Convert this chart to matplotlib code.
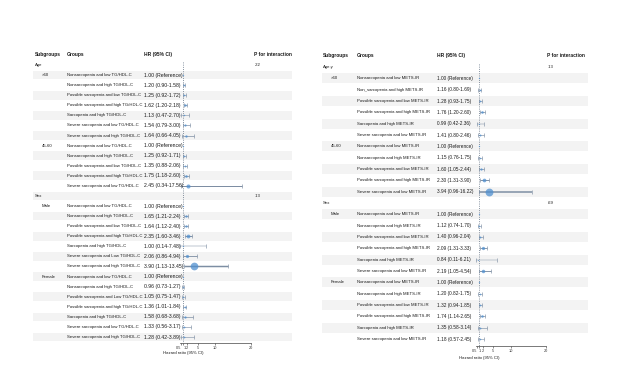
import numpy as np
import matplotlib
matplotlib.use("Agg")
from matplotlib import pyplot as plt
from matplotlib import transforms
from matplotlib.patches import Rectangle

plt.rcParams["font.family"] = ["Liberation Sans", "DejaVu Sans"]

nan = np.nan

# ---- left table: TG/HDL-C ----
tg_sections = ["Age", "Sex"]
tg_pvals = [".22", ".13"]
tg_subgroups = [">60", "45-60", "Male", "Female"]
tg_sub_sizes = [7, 5, 7, 7]
tg_groups = [
    "Nonsarcopenia and low TG/HDL-C", "Nonsarcopenia and high TG/HDL-C",
    "Possible sarcopenia and low TG/HDL-C", "Possible sarcopenia and high TG/HDL-C",
    "Sarcopenia and high TG/HDL-C", "Severe sarcopenia and low TG/HDL-C",
    "Severe sarcopenia and high TG/HDL-C",
    "Nonsarcopenia and low TG/HDL-C", "Nonsarcopenia and high TG/HDL-C",
    "Possible sarcopenia and low TG/HDL-C", "Possible sarcopenia and high TG/HDL-C",
    "Severe sarcopenia and low TG/HDL-C",
    "Nonsarcopenia and low TG/HDL-C", "Nonsarcopenia and high TG/HDL-C",
    "Possible sarcopenia and low TG/HDL-C", "Possible sarcopenia and high TG/HDL-C",
    "Sarcopenia and high TG/HDL-C", "Severe sarcopenia and Low TG/HDL-C",
    "Severe sarcopenia and high TG/HDL-C",
    "Nonsarcopenia and low TG/HDL-C", "Nonsarcopenia and high TG/HDL-C",
    "Possible sarcopenia and Low TG/HDL-C", "Possible sarcopenia and high TG/HDL-C",
    "Sarcopenia and high TG/HDL-C", "Severe sarcopenia and low TG/HDL-C",
    "Severe sarcopenia and high TG/HDL-C",
]
tg_hr = [1.00, 1.20, 1.25, 1.62, 1.13, 1.54, 1.64,
         1.00, 1.25, 1.35, 1.75, 2.45,
         1.00, 1.65, 1.64, 2.35, 1.00, 2.06, 3.90,
         1.00, 0.96, 1.05, 1.36, 1.58, 1.33, 1.28]
tg_lo = [nan, 0.90, 0.92, 1.20, 0.47, 0.79, 0.66,
         nan, 0.92, 0.88, 1.18, 0.34,
         nan, 1.21, 1.12, 1.60, 0.14, 0.86, 1.13,
         nan, 0.73, 0.75, 1.01, 0.68, 0.56, 0.42]
tg_hi = [nan, 1.58, 1.72, 2.18, 2.70, 3.00, 4.05,
         nan, 1.71, 2.06, 2.60, 17.56,
         nan, 2.24, 2.40, 3.46, 7.48, 4.94, 13.45,
         nan, 1.27, 1.47, 1.84, 3.68, 3.17, 3.89]

# ---- right table: METS-IR ----
mets_sections = ["Age.y", "Sex"]
mets_pvals = [".13", ".69"]
mets_subgroups = [">60", "45-60", "Male", "Female"]
mets_sub_sizes = [6, 5, 6, 6]
mets_groups = [
    "Nonsarcopenia and low METS-IR", "Non_sarcopenia and high METS-IR",
    "Possible sarcopenia and low METS-IR", "Possible sarcopenia and high METS-IR",
    "Sarcopenia and high METS-IR", "Severe sarcopenia and low METS-IR",
    "Nonsarcopenia and low METS-IR", "Nonsarcopenia and high METS-IR",
    "Possible sarcopenia and low METS-IR", "Possible sarcopenia and high METS-IR",
    "Severe sarcopenia and low METS-IR",
    "Nonsarcopenia and low METS-IR", "Nonsarcopenia and high METS-IR",
    "Possible sarcopenia and low METS-IR", "Possible sarcopenia and high METS-IR",
    "Sarcopenia and high METS-IR", "Severe sarcopenia and low METS-IR",
    "Nonsarcopenia and low METS-IR", "Nonsarcopenia and high METS-IR",
    "Possible sarcopenia and low METS-IR", "Possible sarcopenia and high METS-IR",
    "Sarcopenia and high METS-IR", "Severe sarcopenia and low METS-IR",
]
mets_hr = [1.00, 1.16, 1.28, 1.76, 0.99, 1.41,
           1.00, 1.15, 1.60, 2.30, 3.94,
           1.00, 1.12, 1.40, 2.09, 0.84, 2.19,
           1.00, 1.20, 1.32, 1.74, 1.35, 1.18]
mets_lo = [nan, 0.80, 0.93, 1.20, 0.42, 0.80,
           nan, 0.76, 1.05, 1.31, 0.96,
           nan, 0.74, 0.96, 1.31, 0.11, 1.05,
           nan, 0.82, 0.94, 1.14, 0.58, 0.57]
mets_hi = [nan, 1.69, 1.75, 2.60, 2.36, 2.46,
           nan, 1.75, 2.44, 3.90, 16.22,
           nan, 1.70, 2.04, 3.33, 6.21, 4.54,
           nan, 1.75, 1.85, 2.65, 3.14, 2.45]

ticks = [0.5, 1, 2, 5, 10, 20]

W, H = 620, 390
TXT = "#1a1a1a"
BAND = "#f3f3f3"
MARK = "#4f8fcf"
LINE = "#7d8ea3"


def build_rows(sections, subgroups, sizes):
    """list of rows: ('sec', i) or ('grp', sub index, data index)"""
    rows = []
    k = 0
    for s in range(len(sections)):
        rows.append(("sec", s))
        for j in (2 * s, 2 * s + 1):
            for _ in range(sizes[j]):
                rows.append(("grp", j, k))
                k += 1
    return rows


def draw_panel(fig, cols, sections, pvals, subgroups, sizes, groups, hr, lo, hi):
    rows = build_rows(sections, subgroups, sizes)
    n = len(rows)
    step = (cols["last_y"] - cols["row0_y"]) / (n - 1)
    y_top = -(cols["row0_y"] - cols["top"]) / step
    y_bot = (n - 1) + (cols["axis_y"] - cols["last_y"]) / step

    ax = fig.add_axes([cols["ax_l"] / W, 1 - cols["axis_y"] / H,
                       (cols["ax_r"] - cols["ax_l"]) / W,
                       (cols["axis_y"] - cols["top"]) / H])
    ax.patch.set_alpha(0)
    ax.set_xlim(0, 20)
    ax.set_ylim(y_bot, y_top)
    tr = transforms.blended_transform_factory(fig.transFigure, ax.transData)

    def txt(xpx, y, s, **kw):
        kw.setdefault("fontsize", cols["fs"])
        ax.text(xpx / W, y, s, transform=tr, va="center", ha="left",
                color=TXT, clip_on=False, **kw)

    # header
    for key, label in [("sub_x", "Subgroups"), ("grp_x", "Groups"),
                       ("hr_x", "HR (95% CI)"), ("p_x", "P for interaction")]:
        txt(cols[key], -1, label, fontsize=3.5, fontweight="bold")

    seen = set()
    for r, row in enumerate(rows):
        if r % 2 == 1:
            ax.add_patch(Rectangle((cols["band_l"] / W, r - 0.43),
                                   (cols["band_r"] - cols["band_l"]) / W, 0.86,
                                   transform=tr, facecolor=BAND, edgecolor="none",
                                   zorder=0, clip_on=False))
        if row[0] == "sec":
            txt(cols["sub_x"], r, sections[row[1]])
            txt(cols["p_x"] + 1, r, pvals[row[1]])
            continue
        _, j, k = row
        if j not in seen:
            seen.add(j)
            txt(cols["subname_x"], r, subgroups[j])
        txt(cols["grp_x"], r, groups[k])
        if np.isnan(lo[k]):
            hr_txt = f"{hr[k]:.2f} (Reference)"
        else:
            hr_txt = f"{hr[k]:.2f} ({lo[k]:.2f}-{hi[k]:.2f})"
        txt(cols["hr_x"], r, hr_txt, fontsize=cols["hr_fs"])

        d_px = 0.95 * hr[k] ** 1.5 + 0.4
        if not np.isnan(lo[k]):
            ax.errorbar(hr[k], r, xerr=[[hr[k] - lo[k]], [hi[k] - hr[k]]],
                        fmt="none", ecolor=LINE, elinewidth=0.35 + 0.25 * (hr[k] - 1),
                        capsize=1.1, capthick=0.45, zorder=2, clip_on=False)
        ax.plot(hr[k], r, "o", ms=d_px * 0.72, color=MARK, alpha=0.75,
                mec="none", zorder=3, clip_on=False)

    # reference line at HR = 1
    ax.plot([1, 1], [-0.3, y_bot], ls=":", lw=0.6, color="#5f6f82", zorder=1)

    for sp in ["top", "right", "left"]:
        ax.spines[sp].set_visible(False)
    ax.spines["bottom"].set_linewidth(0.5)
    ax.spines["bottom"].set_color("#444444")
    ax.set_yticks([])
    ax.set_xticks(ticks)
    ax.set_xticklabels([f"{t:g}" for t in ticks])
    ax.tick_params(axis="x", labelsize=2.8, length=1.5, width=0.4, pad=1,
                   colors="#333333")
    # the first ticks sit very close together: push 0.5 left and 1 right
    labels = ax.get_xticklabels()
    labels[0].set_ha("right")
    labels[1].set_ha("left")
    ax.set_xlabel("Hazard ratio (95% CI)", fontsize=3.1, color=TXT)
    ax.xaxis.set_label_coords(1 / 20, -cols["xlab_off"] / (cols["axis_y"] - cols["top"]))
    return ax


if __name__ == "__main__":
    fig = plt.figure(figsize=(6.2, 3.9), dpi=100)

    left_cols = dict(sub_x=35, subname_x=42, grp_x=67, hr_x=144, p_x=254,
                     band_l=33, band_r=292, ax_l=179.7, ax_r=251,
                     top=50, row0_y=65, last_y=337, axis_y=343,
                     fs=3.1, hr_fs=3.7, xlab_off=8)
    right_cols = dict(sub_x=323, subname_x=331, grp_x=357, hr_x=437, p_x=547,
                      band_l=322, band_r=588, ax_l=475.5, ax_r=545.7,
                      top=50, row0_y=67, last_y=339, axis_y=346,
                      fs=3.1, hr_fs=3.4, xlab_off=10)

    draw_panel(fig, left_cols, tg_sections, tg_pvals, tg_subgroups, tg_sub_sizes,
               tg_groups, tg_hr, tg_lo, tg_hi)
    draw_panel(fig, right_cols, mets_sections, mets_pvals, mets_subgroups,
               mets_sub_sizes, mets_groups, mets_hr, mets_lo, mets_hi)

    fig.savefig("out.png", dpi=100, facecolor="white")
